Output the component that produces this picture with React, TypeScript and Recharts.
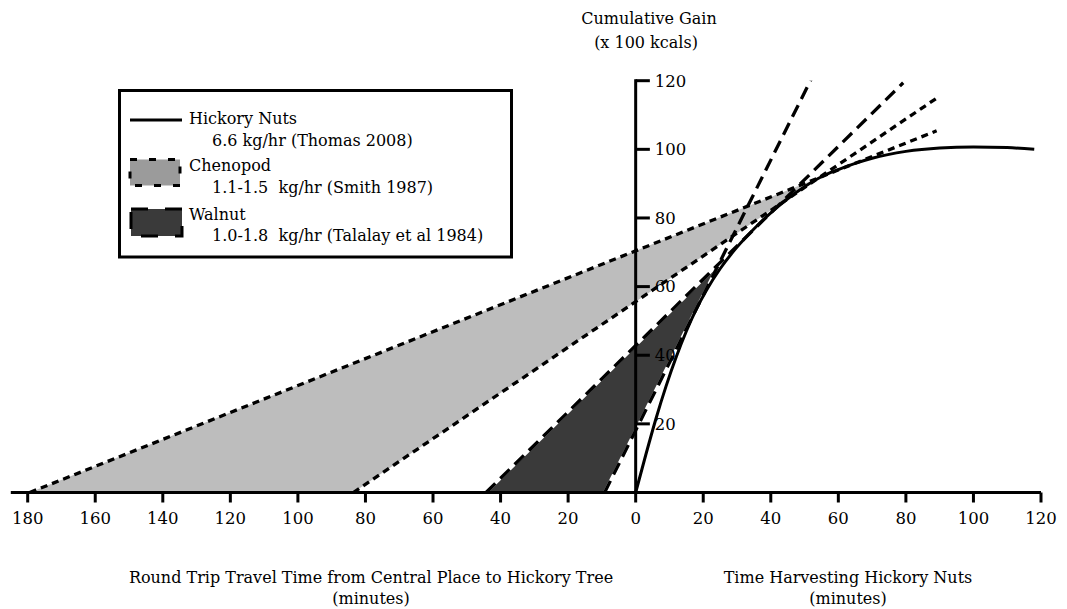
import React from "react";
import {
  Area,
  ComposedChart,
  Line,
  ReferenceLine,
  XAxis,
  YAxis,
} from "recharts";

// Hickory gain curve: minutes harvesting vs cumulative gain (x 100 kcal)
const harvestMinutes = [0, 3, 6, 9, 12, 15, 18, 21, 25, 30, 35, 40, 45, 50, 55, 60, 65, 70, 80, 90, 100, 110, 118];
const hickoryGain = [0, 11, 21.5, 31, 39.5, 47, 53.5, 59, 65.2, 71.5, 76.8, 81.5, 85.6, 89.1, 92, 94.1, 95.9, 97.4, 99.4, 100.4, 100.7, 100.5, 100];

// Return-rate bounds: round-trip minutes where each bound leaves the axis,
// and where each dashed bound stops on the gain side
const walnutTravel = [44.3, 9.2];
const walnutEndX = [79.2, 52.1];
const walnutEndGain = [119.4, 120.7];

const chenopodTravel = [179.4, 83.6];
const chenopodEndX = [89.1, 89.1];
const chenopodEndGain = [105.4, 114.9];

const xTicks = [-180, -160, -140, -120, -100, -80, -60, -40, -20, 0, 20, 40, 60, 80, 100, 120];
const yTicks = [20, 40, 60, 80, 100, 120];

const FONT = "'DejaVu Serif', serif";
const LIGHT = "#bdbdbd";
const DARK = "#3a3a3a";

type Row = { x: number; [key: string]: number | number[] };

function boundLine(startX: number, endX: number, endY: number) {
  const slope = endY / (endX - startX);
  return (x: number) => slope * (x - startX);
}

// rows for one shaded wedge between a slow and a fast bound
function wedgeRows(key: string, travel: number[], endX: number[], endGain: number[]): Row[] {
  const slow = boundLine(-travel[0], endX[0], endGain[0]);
  const fast = boundLine(-travel[1], endX[1], endGain[1]);
  const s1 = endGain[0] / (endX[0] + travel[0]);
  const s2 = endGain[1] / (endX[1] + travel[1]);
  const apexX = (s2 * -travel[1] - s1 * -travel[0]) / (s2 - s1);
  const apexY = slow(apexX);
  return [
    { x: -travel[0], [key]: [0, 0] },
    { x: -travel[1], [key]: [0, slow(-travel[1])] },
    { x: apexX, [key]: [apexY, fast(apexX)] },
  ];
}

function lineRows(prefix: string, travel: number[], endX: number[], endGain: number[]): Row[] {
  const rows: Row[] = [];
  travel.forEach((t, i) => {
    rows.push({ x: -t, [`${prefix}${i}`]: 0 });
    rows.push({ x: endX[i], [`${prefix}${i}`]: endGain[i] });
  });
  return rows;
}

const tableRows: Row[] = [
  ...harvestMinutes.map((m, i) => ({ x: m, hickory: hickoryGain[i] })),
  ...wedgeRows("chenopodWedge", chenopodTravel, chenopodEndX, chenopodEndGain),
  ...wedgeRows("walnutWedge", walnutTravel, walnutEndX, walnutEndGain),
  ...lineRows("chenopodLine", chenopodTravel, chenopodEndX, chenopodEndGain),
  ...lineRows("walnutLine", walnutTravel, walnutEndX, walnutEndGain),
].sort((a, b) => a.x - b.x);

const tickStyle = { fontFamily: FONT, fontSize: 16.5, fill: "#000" };
const pre = { whiteSpace: "pre" as const };

function Legend() {
  return (
    <g fontFamily={FONT} fontSize={16} fill="#000">
      <rect x={119.5} y={90.5} width={392} height={166.5} fill="#fff" stroke="#000" strokeWidth={3} />
      <line x1={130} y1={120} x2={182} y2={120} stroke="#000" strokeWidth={3} />
      <text x={189} y={124}>Hickory Nuts</text>
      <text x={212} y={146}>6.6 kg/hr (Thomas 2008)</text>
      <rect x={130} y={159.5} width={50} height={26} fill="#9b9b9b" stroke="#000" strokeWidth={3} strokeDasharray="7 12" />
      <text x={189} y={171}>Chenopod</text>
      <text x={212} y={193} style={pre} xmlSpace="preserve">{"1.1-1.5\u00a0 kg/hr (Smith 1987)"}</text>
      <rect x={131} y={209} width={51} height={27} fill={DARK} stroke="#000" strokeWidth={3} strokeDasharray="17 17" />
      <text x={189} y={220}>Walnut</text>
      <text x={212} y={241} style={pre} xmlSpace="preserve">{"1.0-1.8\u00a0 kg/hr (Talalay et al 1984)"}</text>
    </g>
  );
}

function Titles() {
  return (
    <g fontFamily={FONT} fontSize={16} fill="#000" textAnchor="middle">
      <text x={649} y={24}>Cumulative Gain</text>
      <text x={646} y={48}>(x 100 kcals)</text>
      <text x={371} y={583}>Round Trip Travel Time from Central Place to Hickory Tree</text>
      <text x={371} y={604}>(minutes)</text>
      <text x={848} y={583}>Time Harvesting Hickory Nuts</text>
      <text x={848} y={604}>(minutes)</text>
    </g>
  );
}

export default function App() {
  return (
    <div style={{ position: "absolute", left: 0, top: 0, width: 1067, height: 609, background: "#fff" }}>
      <ComposedChart
        width={1067}
        height={609}
        data={tableRows}
        margin={{ top: 80.7, right: 26, left: 10.8, bottom: 86.5 }}
      >
        <XAxis
          dataKey="x"
          type="number"
          domain={[-185, 120]}
          ticks={xTicks}
          tickFormatter={(v: number) => String(Math.abs(v))}
          axisLine={{ stroke: "#000", strokeWidth: 3 }}
          tickLine={{ stroke: "#000", strokeWidth: 3 }}
          tickSize={10}
          tickMargin={10}
          tick={tickStyle}
          allowDataOverflow
        />
        <YAxis type="number" domain={[0, 120]} hide allowDataOverflow />

        <Area
          dataKey="chenopodWedge"
          type="linear"
          fill={LIGHT}
          fillOpacity={1}
          stroke="none"
          connectNulls
          isAnimationActive={false}
        />
        <Area
          dataKey="walnutWedge"
          type="linear"
          fill={DARK}
          fillOpacity={1}
          stroke="#fff"
          strokeWidth={3}
          connectNulls
          isAnimationActive={false}
        />

        {/* vertical gain axis through zero */}
        <ReferenceLine
          segment={[{ x: 0, y: 0 }, { x: 0, y: 120.4 }]}
          stroke="#000"
          strokeWidth={3}
          ifOverflow="visible"
        />
        {yTicks.map((v) => (
          <ReferenceLine
            key={v}
            segment={[{ x: 0, y: v }, { x: 4.2, y: v }]}
            stroke="#000"
            strokeWidth={3}
            ifOverflow="visible"
            label={{ value: v, position: "right", offset: 5, style: tickStyle }}
          />
        ))}

        {[0, 1].map((i) => (
          <Line
            key={`c${i}`}
            dataKey={`chenopodLine${i}`}
            type="linear"
            stroke="#000"
            strokeWidth={3.3}
            strokeDasharray="7 5"
            dot={false}
            connectNulls
            isAnimationActive={false}
          />
        ))}
        {[0, 1].map((i) => (
          <Line
            key={`w${i}`}
            dataKey={`walnutLine${i}`}
            type="linear"
            stroke="#000"
            strokeWidth={3.3}
            strokeDasharray="13 7"
            dot={false}
            connectNulls
            isAnimationActive={false}
          />
        ))}
        <Line
          dataKey="hickory"
          type="monotone"
          stroke="#000"
          strokeWidth={3}
          dot={false}
          connectNulls
          isAnimationActive={false}
        />
      </ComposedChart>
      <svg
        width={1067}
        height={609}
        style={{ position: "absolute", left: 0, top: 0, pointerEvents: "none" }}
      >
        <Legend />
        <Titles />
      </svg>
    </div>
  );
}
